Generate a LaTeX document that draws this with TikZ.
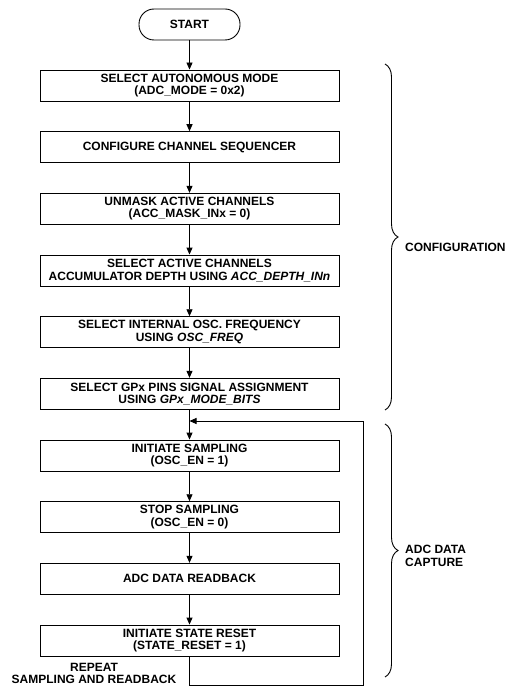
\documentclass[tikz,border=0pt]{standalone}
\usepackage{fontspec}
\setmainfont{Liberation Sans}
\usetikzlibrary{arrows.meta,decorations.pathreplacing}

\tikzset{
  stepbox/.style={rectangle,draw,line width=0.9pt,minimum width=299pt,minimum height=31pt,align=center,inner sep=0pt},
  flow/.style={line width=0.9pt,-{Triangle[length=7pt,width=6pt]}},
  grpbrace/.style={decorate,decoration={brace,amplitude=13pt},line width=0.9pt},
  grplabel/.style={anchor=west,inner sep=0pt,align=left}
}

\begin{document}
\begin{tikzpicture}[x=1pt,y=-1pt,font=\fontsize{12}{12.5}\selectfont\bfseries]
\useasboundingbox (0,0) rectangle (505,687);
% flow chart
\node[draw,line width=0.9pt,rounded corners=15pt,minimum width=101pt,minimum height=31pt] (start) at (189.5,24.5) {START};
\node[stepbox] (auto) at (189.5,85.5) {SELECT AUTONOMOUS MODE\\(ADC\_MODE = 0x2)};
\node[stepbox] (seq) at (189.5,147.2) {CONFIGURE CHANNEL SEQUENCER};
\node[stepbox] (mask) at (189.5,208.8) {UNMASK ACTIVE CHANNELS\\(ACC\_MASK\_INx = 0)};
\node[stepbox] (depth) at (189.5,270.5) {SELECT ACTIVE CHANNELS\\ACCUMULATOR DEPTH USING \textit{ACC\_DEPTH\_INn}};
\node[stepbox] (osc) at (189.5,332.2) {SELECT INTERNAL OSC. FREQUENCY\\USING \textit{OSC\_FREQ}};
\node[stepbox] (gpx) at (189.5,393.8) {SELECT GPx PINS SIGNAL ASSIGNMENT\\USING \textit{GPx\_MODE\_BITS}};
\node[stepbox] (samp) at (189.5,455.5) {INITIATE SAMPLING\\(OSC\_EN = 1)};
\node[stepbox] (stop) at (189.5,517.2) {STOP SAMPLING\\(OSC\_EN = 0)};
\node[stepbox] (read) at (189.5,578.8) {ADC DATA READBACK};
\node[stepbox] (rst) at (189.5,640.5) {INITIATE STATE RESET\\(STATE\_RESET = 1)};
\coordinate (merge) at (189.5,421);
\coordinate (loopbr) at (363,685);
\draw[flow] (start) -- (auto);
\draw[flow] (auto) -- (seq);
\draw[flow] (seq) -- (mask);
\draw[flow] (mask) -- (depth);
\draw[flow] (depth) -- (osc);
\draw[flow] (osc) -- (gpx);
\draw[flow] (gpx) -- (samp);
\draw[flow] (samp) -- (stop);
\draw[flow] (stop) -- (read);
\draw[flow] (read) -- (rst);
\draw[flow] (rst.south) |- (loopbr) |- (merge);
\node[align=center,inner sep=0pt] (rep) at (94,673.5) {REPEAT\\SAMPLING AND READBACK};
% groups
\draw[grpbrace] (385,64) -- (385,410);
\node[grplabel] (cfg) at (405,247) {CONFIGURATION};
\draw[grpbrace] (385,424) -- (385,677);
\node[grplabel] (cap) at (405,556) {ADC DATA\\CAPTURE};
\end{tikzpicture}
\end{document}
